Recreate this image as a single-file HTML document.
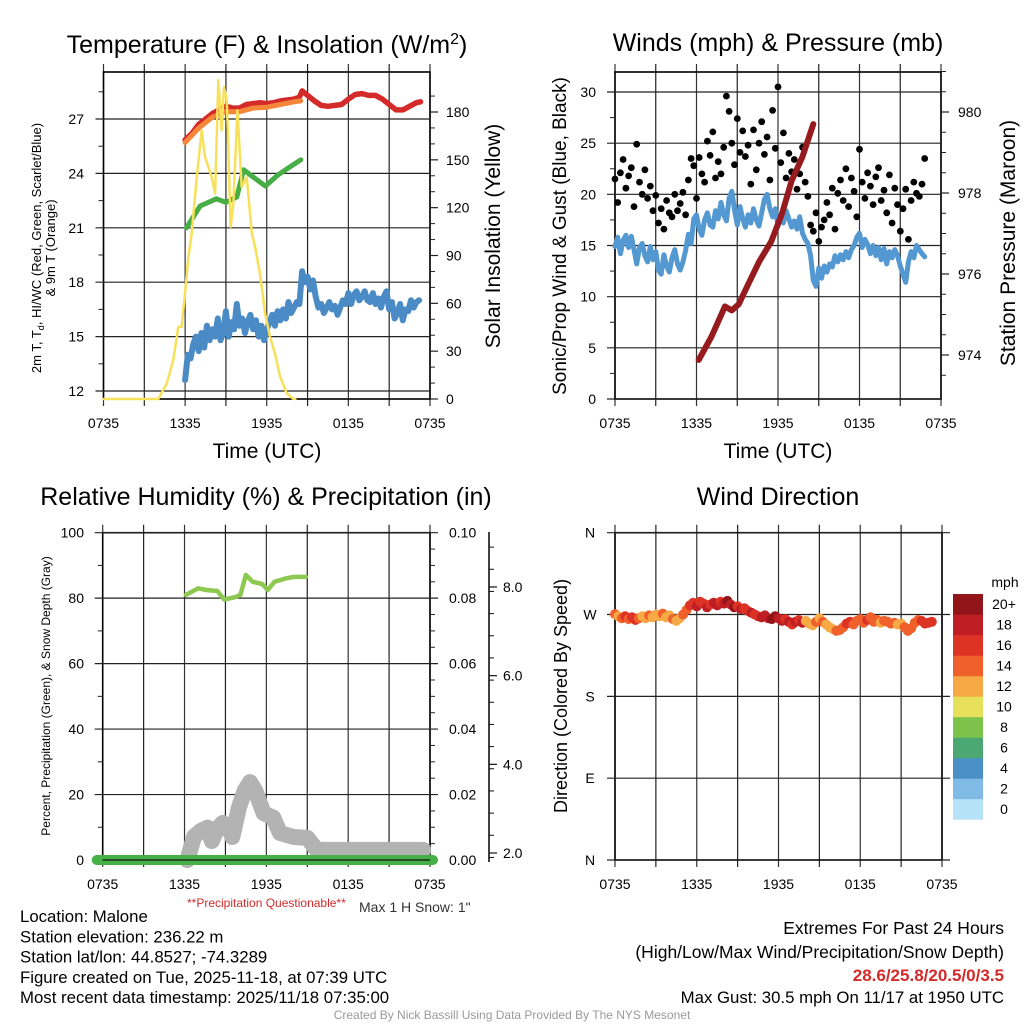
<!DOCTYPE html>
<html><head><meta charset="utf-8"><style>
body{margin:0;background:#fff;}
svg{display:block;font-family:"Liberation Sans",Arial,sans-serif;}
</style></head><body>
<svg id="c" width="1024" height="1024" viewBox="0 0 1024 1024">
<g id="g"></g>
</svg>
<script>
// ---------- data ----------
const xTickLabels=["0735","1335","1935","0135","0735"];
const tempHours=[6,6.5,7,7.5,8,8.5,9,9.5,10,10.5,11,11.5,12,12.5,13,13.5,14,14.4,14.6,15,15.5,16,16.5,17,17.5,18,18.5,19,19.5,20,20.5,21,21.5,22,22.5,23,23.3];
const tempRed=[25.85,26.2,26.7,27.0,27.3,27.5,27.7,27.6,27.6,27.8,27.85,27.9,27.85,27.9,28.0,28.05,28.1,28.2,28.55,28.3,28.0,27.75,27.7,27.75,27.8,28.1,28.35,28.4,28.3,28.3,28.1,27.8,27.5,27.5,27.7,27.9,27.95];
const t9Hours=[6,7,8,9,10,11,12,13,14,14.5];
const temp9m=[25.7,26.5,27.1,27.4,27.4,27.6,27.65,27.8,27.95,28.0];
const dewHours=[6.1,7.1,8.3,9,9.8,10.3,11,11.9,12.8,13.8,14.5];
const dewGreen=[21.0,22.2,22.6,22.4,22.7,24.2,23.8,23.3,23.9,24.4,24.75];
const solarHours=[0,4.03,4.65,5.13,5.5,5.75,5.99,6.24,6.48,6.85,7.22,7.46,7.71,7.95,8.2,8.44,8.69,8.86,9.06,9.35,9.55,9.84,10.16,10.53,10.9,11.14,11.5,11.88,12.24,12.6,12.98,13.47,13.96,14.1];
const solar=[0,0,9.8,24.4,45.3,45.3,66.2,89,103.8,139,168.5,151.8,145.5,139,128.9,200,168.5,195.7,187.3,108,122.7,181,133,139,103.8,95.4,78.8,53.7,39,28.6,14,3.6,0,0];
const wcStart=6, wcStep=0.2;
const windChill=[12.6,14.0,13.8,14.6,15.0,14.2,15.2,14.4,15.6,14.8,15.4,15.0,16.0,14.8,15.2,16.4,15.0,15.8,15.4,16.8,15.6,16.0,15.2,15.8,16.2,15.4,15.9,15.0,15.6,14.8,15.4,15.8,16.2,15.6,16.4,15.9,16.5,16.0,16.9,16.3,16.6,16.9,16.8,18.6,18.0,18.3,17.6,18.1,17.2,16.6,16.8,16.3,16.6,16.9,16.5,16.7,16.2,16.6,17.0,16.8,17.4,16.8,17.3,17.5,17.0,17.2,17.5,17.0,16.9,17.4,16.8,17.1,16.6,17.2,17.5,16.5,16.9,16.0,16.3,16.8,15.9,16.5,16.4,17.0,16.6,16.9,17.0];
const windStep=0.2;
const windSpeed=[14.9,15.8,14.2,15.5,16.0,14.8,15.9,14.6,13.2,14.8,15.2,14.0,13.4,14.9,13.6,14.4,12.6,12.2,14.1,13.0,12.4,13.8,14.6,13.2,12.6,13.4,14.5,16.1,15.2,17.6,18.0,16.6,16.0,17.5,18.2,17.0,16.8,18.4,17.6,19.2,18.0,17.4,19.6,20.3,18.5,17.0,18.8,17.6,16.8,18.0,17.2,18.6,17.5,16.9,18.2,19.5,20.0,18.6,17.8,18.6,16.9,18.0,17.2,18.4,17.6,16.8,17.4,16.6,17.8,16.2,15.6,15.2,14.0,11.6,11.0,12.8,11.8,13.0,12.4,13.2,12.9,14.0,13.4,14.1,13.6,14.4,13.8,14.6,15.0,15.8,16.2,14.8,15.6,15.1,14.2,15.0,14.0,14.8,13.6,14.7,13.2,14.4,13.8,14.6,14.0,13.0,12.2,11.4,13.4,14.4,13.8,15.0,14.6,14.2,13.9];
const gust=[21.5,19.2,22.1,23.4,20.6,21.8,22.6,18.8,24.9,21.2,20.0,22.4,19.6,20.8,18.4,19.9,17.2,18.6,16.6,19.4,18.2,17.8,20.0,18.4,19.1,20.2,18.0,21.4,23.5,22.8,19.6,23.6,22.0,21.2,25.2,23.8,26.1,21.6,23.2,22.0,24.6,29.6,28.1,25.0,22.9,27.4,24.1,26.2,23.7,24.8,21.0,26.3,22.4,25.0,27.1,23.9,25.6,21.4,28.2,24.5,30.5,23.1,26.0,21.6,24.0,22.2,23.4,20.5,22.0,24.6,21.2,19.8,17.0,16.4,18.2,15.4,16.8,17.5,19.2,18.0,20.6,16.6,20.1,21.4,19.4,22.5,18.8,21.6,20.3,17.8,24.4,21.2,19.6,22.1,20.8,19.0,21.7,22.6,19.4,20.4,18.2,21.9,17.2,20.6,19.0,16.4,18.6,20.5,15.6,19.4,21.2,20.1,19.8,21.0,23.5];
const presHours=[6.16,7.1,8.1,8.6,9.1,9.8,10.6,11.5,12.3,13,13.8,14.6];
const pressure=[973.88,974.45,975.2,975.1,975.25,975.74,976.3,976.8,977.5,978.3,978.9,979.7];
const rhHours=[6.1,7,7.6,8.4,8.9,9.7,10.1,10.5,11,11.7,12.1,12.6,13.4,14,14.9];
const rh=[81,83,82.5,82.2,79.6,80.3,81,87.1,85,84.3,82.5,85,86,86.5,86.5];
const snowHours=[6.2,6.7,7.2,7.7,8.0,8.4,8.8,9.2,9.5,10,10.4,10.8,11.2,11.8,12.5,13,14,15,15.7,23.5];
const snow=[1.84,2.37,2.5,2.57,2.27,2.55,2.68,2.6,2.36,3.04,3.4,3.6,3.4,2.9,2.8,2.45,2.36,2.34,2.07,2.07];
const dirStep=0.25;
const direction=[270.5,268,266,268,265,267,264,266,268,266,269,267,270,268,271,267,269,265,263,266,270,275,280,283,279,284,282,278,281,283,280,284,282,285,281,278,279,276,277,274,272,270,268,267,269,266,265,268,266,263,265,262,259,262,264,261,263,260,258,262,266,262,259,256,254,252,253,256,260,262,259,263,265,261,264,267,262,264,261,263,262,260,261,259,260,256,252,255,261,264,263,260,261,262];
const dirSpeed=[14,13,15,16,15,17,16,14,13,12,14,13,12,13,15,12,13,14,12,12.5,14,15,16,17,18,17,16,18,17,18,19,17,18,20,19,21,17,18,17,16,18,17,17,18,19,18,20,21,18,19,17,18,17,18,16,19,13,12,13,14,12,14,13,12,13,14,15,14,16,17,15,14,15,14,16,14,15,14,13,15,14,15,14,13,12,14,15,14,15,14,16,17,16,17];
const binColors=["#b6e2f8","#7fbbe4","#4a90c7","#4ca872","#7dc24a","#e6e05a","#f6a944","#f0602b","#dc3325","#be1e24","#921519"];
const binLabels=["0","2","4","6","8","10","12","14","16","18","20+"];

// ---------- helpers ----------
const NS="http://www.w3.org/2000/svg";
const G=document.getElementById('g');
function el(tag,attrs,parent){const e=document.createElementNS(NS,tag);for(const k in attrs)e.setAttribute(k,attrs[k]);(parent||G).appendChild(e);return e;}
function txt(x,y,s,size,anchor,extra){const t=el('text',Object.assign({x:x,y:y,'font-size':size,'text-anchor':anchor||'middle',fill:'#000'},extra||{}));t.textContent=s;return t;}
function line(x1,y1,x2,y2,c,w){return el('line',{x1:x1,y1:y1,x2:x2,y2:y2,stroke:c||'#111','stroke-width':w||1.2});}
function path(xs,ys,sx,sy,c,w){let d='';for(let i=0;i<xs.length;i++)d+=(i?'L':'M')+sx(xs[i]).toFixed(1)+' '+sy(ys[i]).toFixed(1);return el('path',{d:d,fill:'none',stroke:c,'stroke-width':w,'stroke-linejoin':'round','stroke-linecap':'round'});}
function lin(d0,d1,r0,r1){return v=>r0+(v-d0)*(r1-r0)/(d1-d0);}
function frame(L,T,R,B){
  for(let k=0;k<=8;k++){const x=L+k*(R-L)/8;line(x,T-8,x,B+7,k%2?'#222':'#333',1.2);}
  el('rect',{x:L,y:T,width:R-L,height:B-T,fill:'none',stroke:'#000','stroke-width':1.6});
  for(let k=0;k<5;k++){const t=txt(L+k*(R-L)/4,B+29,xTickLabels[k],14);}
}

// ---------- Panel 1 ----------
(function(){
 const L=103.5,R=430,T=72,B=399;
 const sx=lin(0,24,L,R), sy=lin(12,27,391,119), ss=lin(0,180,399,112);
 frame(L,T,R,B);
 for(let v=12;v<=27;v+=3){line(L-8,sy(v),R,sy(v),'#222',1.2);txt(84,sy(v)+5,String(v),14,'end');}
 for(let v=13.5;v<=28.5;v+=3)line(L-5,sy(v),L,sy(v),'#222',1);
 for(let v=0;v<=180;v+=30){line(R,ss(v),R+8,ss(v),'#222',1.2);txt(446,ss(v)+5,String(v),14,'start');}
 for(let v=10;v<=190;v+=10)if(v%30)line(R,ss(v),R+5,ss(v),'#222',1);
 const wcH=windChill.map((v,i)=>wcStart+i*wcStep);
 const c=path(wcH,windChill,sx,sy,'#4a8bc6',6);
 const d=path(dewHours,dewGreen,sx,sy,'#47ad45',5);
 const f=path(tempHours,tempRed,sx,sy,'#d42a2a',5.5);
 const e=path(t9Hours,temp9m,sx,sy,'#f5873a',5);
 const a=path(solarHours,solar,sx,ss,'#f7e05a',2.5);
 const t=txt(267,53,'Temperature (F) & Insolation (W/m',25);
 const ts=el('tspan',{dy:-9,'font-size':16},t);ts.textContent='2';const ts2=el('tspan',{dy:9},t);ts2.textContent=')';
 const xt=txt(267,458,'Time (UTC)',21);
 const r=txt(0,0,'Solar Insolation (Yellow)',21,'middle',{transform:'translate(500,236) rotate(-90)'});
 const l1=txt(0,0,'2m T, T',13,'middle',{transform:'translate(41,248) rotate(-90)'});const sb=el('tspan',{dy:3,'font-size':9},l1);sb.textContent='d';const sb2=el('tspan',{dy:-3},l1);sb2.textContent=', HI/WC (Red, Green, Scarlet/Blue)';
 
 txt(0,0,'& 9m T (Orange)',13,'middle',{transform:'translate(55,248) rotate(-90)'});
})();

// ---------- Panel 2 ----------
(function(){
 const L=615,R=941,T=72,B=399;
 const sx=lin(0,24,L,R), sy=lin(0,30,399,92), sp=lin(974,980,355,112);
 frame(L,T,R,B);
 for(let v=0;v<=30;v+=5){line(L-8,sy(v),R,sy(v),'#222',1.2);txt(596,sy(v)+5,String(v),14,'end');}
 for(let v=2.5;v<=32;v+=5)line(L-5,sy(v),L,sy(v),'#222',1);
 for(let v=974;v<=980;v+=2){line(R,sp(v),R+8,sp(v),'#222',1.2);txt(958,sp(v)+5,String(v),14,'start');}
 for(let v=973.5;v<=981;v+=0.5)if(v%2)line(R,sp(v),R+5,sp(v),'#222',1);
 const wh=windSpeed.map((v,i)=>i*windStep);
 const w=path(wh,windSpeed,sx,sy,'#5498d2',5);
 const gg=el('g',{});
 gust.forEach((v,i)=>{el('circle',{cx:sx(i*windStep).toFixed(1),cy:sy(v).toFixed(1),r:3.4,fill:'#000'},gg);});
 const p=path(presHours,pressure,sx,sp,'#961b1e',6);
 const t=txt(778,51,'Winds (mph) & Pressure (mb)',25);
 const xt=txt(778,458,'Time (UTC)',21);
 const l=txt(0,0,'Sonic/Prop Wind & Gust (Blue, Black)',19,'middle',{transform:'translate(566,236) rotate(-90)'});
 const r=txt(0,0,'Station Pressure (Maroon)',21,'middle',{transform:'translate(1015,243) rotate(-90)'});
})();

// ---------- Panel 3 ----------
(function(){
 const L=102.7,R=430,T=532.7,B=860;
 const sx=lin(0,24,L,R), sy=lin(0,100,860,532.7), sn=lin(2,8,853,587);
 frame(L,T,R,B);
 for(let v=0;v<=100;v+=20){line(L-8,sy(v),R+8,sy(v),'#222',1.2);txt(84,sy(v)+5,String(v),14,'end');txt(449,sy(v)+5,(v/1000).toFixed(2),14,'start');}
 for(let v=10;v<=100;v+=20)line(L-5,sy(v),L,sy(v),'#222',1);
 for(let v=5;v<=100;v+=5)if(v%20)line(R,sy(v),R+5,sy(v),'#222',1);
 line(489,532,489,862,'#111',1.6);
 for(let v=2;v<=8;v+=2){line(489,sn(v),497,sn(v),'#111',1.2);txt(503,sn(v)+5,v.toFixed(1),14,'start');}
 for(let v=1.9;v<=8.9;v+=0.5)line(489,sn(v),494,sn(v),'#111',1);
 const s=path(snowHours,snow,sx,sn,'#b3b3b3',16);
 const pr=el('line',{x1:L-6,y1:860,x2:R+3,y2:860,stroke:'#45b046','stroke-width':10,'stroke-linecap':'round'});
 line(L,860,R,860,'#111',1.3);
 const h=path(rhHours,rh,sx,sy,'#8dc851',4.5);
 const t=txt(266,505,'Relative Humidity (%) & Precipitation (in)',25);
 const l=txt(0,0,'Percent, Precipitation (Green), & Snow Depth (Gray)',12,'middle',{transform:'translate(50,696) rotate(-90)'});
 const q=txt(187,907,'**Precipitation Questionable**',12,'start',{fill:'#d42a2a'});
 const m=txt(359,912,'Max 1 H Snow: 1"',14,'start',{fill:'#333'});
})();

// ---------- Panel 4 ----------
(function(){
 const L=615,R=942,T=532.7,B=860;
 const sx=lin(0,24,L,R), sy=lin(360,0,532.7,860);
 frame(L,T,R,B);
 const dl=['N','W','S','E','N'];
 [360,270,180,90,0].forEach((v,i)=>{line(L-8,sy(v),R+8,sy(v),'#222',1.2);txt(590,sy(v)+5,dl[i],14,'middle');});
 const dg=el('g',{});
 direction.forEach((v,i)=>{const b=Math.max(0,Math.min(10,Math.floor(dirSpeed[i]/2)));el('circle',{cx:sx(i*dirStep).toFixed(1),cy:sy(v).toFixed(1),r:5,fill:binColors[b]},dg);});
 const t=txt(778,505,'Wind Direction',25);
 const l=txt(0,0,'Direction (Colored By Speed)',18,'middle',{transform:'translate(567,696) rotate(-90)'});
 const cb=el('g',{});
 for(let k=0;k<11;k++){const y0=594+(10-k)*20.5;el('rect',{x:953,y:y0,width:30,height:20.7,fill:binColors[k]},cb);txt(1004,y0+15,binLabels[k],14,'middle');}
 txt(1005,587,'mph',14,'middle');
})();

// ---------- footer text ----------
const info=["Location: Malone","Station elevation: 236.22 m","Station lat/lon: 44.8527; -74.3289","Figure created on Tue, 2025-11-18, at 07:39 UTC","Most recent data timestamp: 2025/11/18 07:35:00"];
info.forEach((s,i)=>{const t=txt(20,922+i*20.3,s,16.8,'start');});
txt(1004,934,'Extremes For Past 24 Hours',17.5,'end');
txt(1004,958,'(High/Low/Max Wind/Precipitation/Snow Depth)',17.5,'end');
const ex=txt(1004,981,'28.6/25.8/20.5/0/3.5',17,'end',{fill:'#d42a2a','font-weight':'bold'});
txt(1004,1003,'Max Gust: 30.5 mph On 11/17 at 1950 UTC',16.8,'end');
const cr=txt(512,1019,'Created By Nick Bassill Using Data Provided By The NYS Mesonet',12,'middle',{fill:'#999'});
</script>
</body></html>
